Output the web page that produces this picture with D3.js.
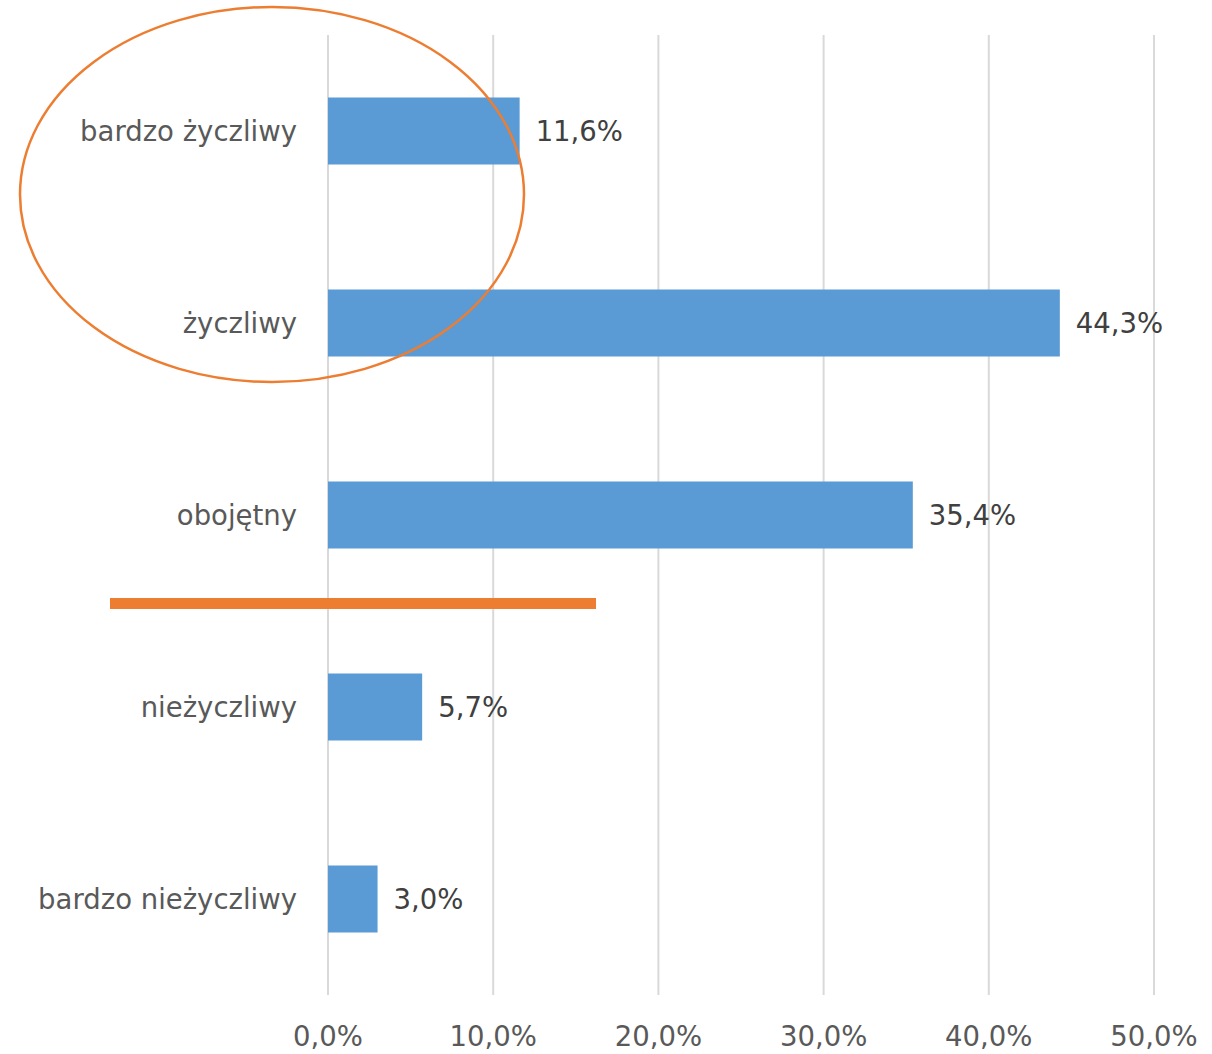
<!DOCTYPE html>
<html><head><meta charset="utf-8">
<script src="https://cdn.jsdelivr.net/npm/d3@7"></script>
<style>body{margin:0;background:#fff}</style>
</head><body>
<svg id="c" width="1212" height="1054"></svg>
<script>
const categories = ["bardzo życzliwy","życzliwy","obojętny","nieżyczliwy","bardzo nieżyczliwy"];
const values = [11.6, 44.3, 35.4, 5.7, 3.0];
const ticks = [0,10,20,30,40,50];
const fmt = v => v.toFixed(1).replace(".", ",") + "%";

const svg = d3.select("#c");
const font = "'DejaVu Sans', Verdana, sans-serif";
const x = d3.scaleLinear().domain([0,50]).range([328,1154]);
const y = d3.scaleBand().domain(categories).range([35,995]).paddingInner(0.651).paddingOuter(0.3255);

// gridlines
svg.append("g").selectAll("line").data(ticks).join("line")
  .attr("x1", d=>x(d)).attr("x2", d=>x(d)).attr("y1",35).attr("y2",995)
  .attr("stroke","#d9d9d9").attr("stroke-width",2);

// bars
svg.append("g").selectAll("rect").data(values).join("rect")
  .attr("x", x(0)).attr("y",(d,i)=>y(categories[i]))
  .attr("width", d=>x(d)-x(0)).attr("height", y.bandwidth())
  .attr("fill","#5B9BD5");

// data labels
svg.append("g").selectAll("text").data(values).join("text")
  .attr("x", d=>x(d)+16).attr("y",(d,i)=>y(categories[i])+y.bandwidth()/2)
  .attr("dy","0.36em").attr("font-family",font).attr("font-size",27.5)
  .attr("fill","#404040").text(fmt);

// category labels
svg.append("g").selectAll("text").data(categories).join("text")
  .attr("x", 297).attr("y", d=>y(d)+y.bandwidth()/2).attr("dy","0.36em")
  .attr("text-anchor","end").attr("font-family",font).attr("font-size",27.5)
  .attr("fill","#595959").text(d=>d);

// x axis tick labels
svg.append("g").selectAll("text").data(ticks).join("text")
  .attr("x", d=>x(d)).attr("y",1046).attr("text-anchor","middle")
  .attr("font-family",font).attr("font-size",27.5).attr("fill","#595959")
  .text(d=>fmt(d));

// annotations
svg.append("ellipse").attr("cx",272).attr("cy",194.5).attr("rx",252).attr("ry",187.5)
  .attr("fill","none").attr("stroke","#ED7D31").attr("stroke-width",2.5);
svg.append("rect").attr("x",110).attr("y",598).attr("width",486).attr("height",11)
  .attr("fill","#ED7D31");
</script>
</body></html>
